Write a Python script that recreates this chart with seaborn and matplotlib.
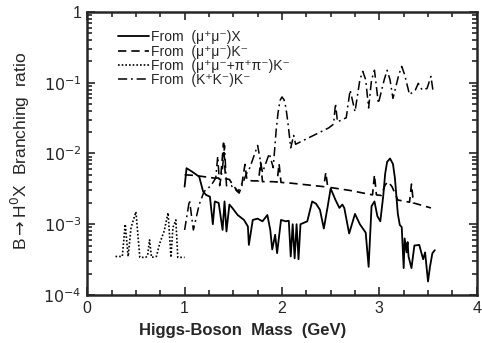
import numpy as np
import pandas as pd
import matplotlib
matplotlib.use("Agg")
import matplotlib.pyplot as plt
from matplotlib.ticker import FixedLocator, MultipleLocator, LogLocator, NullFormatter
from matplotlib.lines import Line2D
import seaborn as sns

# ---- data ----
# (mu+mu-)X  solid
mass_mumuX = [1.00, 1.02, 1.08, 1.15, 1.19, 1.22, 1.26, 1.29, 1.31, 1.35, 1.39, 1.41, 1.43,
              1.46, 1.49, 1.545, 1.61, 1.65, 1.66, 1.70, 1.75, 1.80, 1.85, 1.88, 1.90, 1.93,
              1.95, 1.99, 2.04, 2.07, 2.09, 2.11, 2.13, 2.15, 2.17, 2.19, 2.26, 2.31, 2.35,
              2.39, 2.43, 2.47, 2.50, 2.55, 2.59, 2.62, 2.64, 2.69, 2.75, 2.80, 2.86, 2.89,
              2.92, 2.95, 2.98, 3.01, 3.04, 3.06, 3.08, 3.11, 3.14, 3.16, 3.19, 3.21, 3.23,
              3.25, 3.26, 3.28, 3.29, 3.30, 3.33, 3.36, 3.41, 3.45, 3.47, 3.50, 3.52, 3.545, 3.57]
br_mumuX = [3.4e-3, 6.2e-3, 5.5e-3, 4.7e-3, 2.9e-3, 2.6e-3, 2.45e-3, 1.0e-3, 2.1e-3, 2.0e-3,
            8.3e-4, 2.1e-3, 7.9e-4, 1.9e-3, 1.7e-3, 1.35e-3, 1.15e-3, 9.3e-4, 5.1e-4, 1.15e-3,
            1.2e-3, 1.1e-3, 1.35e-3, 8.3e-4, 4.4e-4, 7.1e-4, 3.9e-4, 1.15e-3, 1.1e-3, 1.12e-3,
            3.5e-4, 1.0e-3, 3.3e-4, 1.0e-3, 3.2e-4, 1.0e-3, 1.1e-3, 2.1e-3, 1.95e-3, 1.6e-3,
            8.7e-4, 1.8e-3, 3.2e-3, 2.2e-3, 1.7e-3, 1.9e-3, 1.7e-3, 7.4e-4, 1.4e-3, 1.0e-3,
            7.6e-4, 2.5e-4, 1.8e-3, 2.1e-3, 1.3e-3, 1.1e-3, 2.5e-3, 5.2e-3, 7.6e-3, 8.5e-3,
            7.1e-3, 4.5e-3, 1.4e-3, 9.8e-4, 9.1e-4, 2.4e-4, 6.3e-4, 4.0e-4, 5.6e-4, 3.5e-4,
            2.4e-4, 5.0e-4, 5.1e-4, 3.2e-4, 4.0e-4, 1.55e-4, 2.5e-4, 3.9e-4, 4.3e-4]

# (mu+mu-)K-  dashed
mass_mumuK = [1.00, 1.10, 1.20, 1.30, 1.37, 1.40, 1.42, 1.46, 1.50, 1.55, 1.59, 1.62, 1.64,
              1.70, 1.76, 1.78, 1.80, 1.90, 1.95, 1.97, 1.99, 2.10, 2.30, 2.43, 2.45, 2.47,
              2.70, 2.93, 2.95, 2.97, 3.02, 3.06, 3.09, 3.13, 3.19, 3.31, 3.33, 3.35, 3.53]
br_mumuK = [5.0e-3, 4.9e-3, 4.7e-3, 4.5e-3, 4.5e-3, 1.4e-2, 4.4e-3, 4.3e-3, 3.5e-3, 2.9e-3,
            3.8e-3, 7.0e-3, 4.2e-3, 4.1e-3, 4.1e-3, 7.5e-3, 4.0e-3, 4.0e-3, 3.95e-3, 7.2e-3,
            3.9e-3, 3.8e-3, 3.55e-3, 3.4e-3, 5.4e-3, 3.35e-3, 3.0e-3, 2.6e-3, 5.0e-3, 2.6e-3,
            2.55e-3, 3.6e-3, 4.0e-3, 3.4e-3, 2.2e-3, 2.05e-3, 3.7e-3, 2.0e-3, 1.7e-3]

# (mu+mu- + pi+pi-)K-  dotted
mass_mupiK = [0.29, 0.36, 0.39, 0.42, 0.45, 0.50, 0.54, 0.60, 0.62, 0.64, 0.66, 0.71,
              0.745, 0.79, 0.83, 0.86, 0.88, 0.91, 0.93, 1.00]
br_mupiK = [3.5e-4, 3.5e-4, 1.0e-3, 3.5e-4, 9.0e-4, 1.5e-3, 3.4e-4, 3.4e-4, 3.6e-4, 6.0e-4,
            3.4e-4, 3.5e-4, 5.4e-4, 8.0e-4, 1.45e-3, 3.4e-4, 9.0e-4, 1.15e-3, 3.4e-4, 3.4e-4]

# (K+K-)K-  dash-dot
mass_KKK = [1.00, 1.05, 1.09, 1.15, 1.20, 1.27, 1.32, 1.34, 1.36, 1.39, 1.41, 1.43, 1.48,
            1.56, 1.63, 1.67, 1.75, 1.80, 1.87, 1.91, 1.94, 1.96, 1.98, 2.00, 2.02, 2.04,
            2.06, 2.08, 2.09, 2.12, 2.14, 2.48, 2.53, 2.55, 2.57, 2.66, 2.70, 2.75, 2.80,
            2.83, 2.86, 2.89, 2.92, 2.95, 2.99, 3.05, 3.08, 3.11, 3.14, 3.20, 3.23, 3.26,
            3.31, 3.37, 3.40, 3.44, 3.49, 3.53, 3.55]
br_KKK = [8.3e-4, 2.2e-3, 8.3e-4, 1.9e-3, 2.9e-3, 3.5e-3, 4.5e-3, 9.1e-3, 3.5e-3, 6.3e-3,
          1.3e-2, 3.5e-3, 3.5e-3, 2.75e-3, 5.0e-3, 6.3e-3, 1.3e-2, 5.4e-3, 1.0e-2, 6.3e-3,
          2.1e-2, 3.8e-2, 5.6e-2, 6.3e-2, 5.8e-2, 4.5e-2, 2.8e-2, 1.6e-2, 1.2e-2, 1.8e-2,
          1.35e-2, 2.3e-2, 2.6e-2, 5.1e-2, 2.8e-2, 3.2e-2, 7.9e-2, 3.9e-2, 1.1e-1, 1.45e-1,
          1.1e-1, 4.4e-2, 1.1e-1, 1.5e-1, 5.1e-2, 1.1e-1, 1.5e-1, 1.1e-1, 6.0e-2, 1.3e-1,
          1.7e-1, 1.3e-1, 6.8e-2, 7.9e-2, 9.8e-2, 7.9e-2, 8.3e-2, 1.23e-1, 7.9e-2]

legend_labels = ['From  (μ⁺μ⁻)X',
                 'From  (μ⁺μ⁻)K⁻',
                 'From  (μ⁺μ⁻+π⁺π⁻)K⁻',
                 'From  (K⁺K⁻)K⁻']
x_ticks = [0, 1, 2, 3, 4]
y_ticks = [1e-4, 1e-3, 1e-2, 1e-1, 1]
y_tick_labels = [r'$10^{-4}$', r'$10^{-3}$', r'$10^{-2}$', r'$10^{-1}$', '1']

# ---- plotting ----
sns.set_style('ticks')
plt.rcParams['font.family'] = ['Liberation Sans', 'DejaVu Sans']
plt.rcParams['mathtext.fontset'] = 'dejavusans'

fig = plt.figure(figsize=(4.82, 3.43), dpi=100)
ax = fig.add_axes([0.181, 0.14, 0.808, 0.825])

styles = [dict(ls='-', lw=1.3), dict(ls=(0, (5, 3)), lw=1.2),
          dict(ls=(0, (1, 1.2)), lw=1.2), dict(ls=(0, (6, 2.5, 1.2, 2.5)), lw=1.1)]
series = [(mass_mumuX, br_mumuX), (mass_mumuK, br_mumuK),
          (mass_mupiK, br_mupiK), (mass_KKK, br_KKK)]
for (xs, ys), st in zip(series, styles):
    df = pd.DataFrame({'m': xs, 'br': ys})
    sns.lineplot(data=df, x='m', y='br', ax=ax, color='black', sort=False,
                 estimator=None, linestyle=st['ls'], linewidth=st['lw'])

ax.set_yscale('log')
ax.set_xlim(0, 4)
ax.set_ylim(1e-4, 1)
ax.xaxis.set_major_locator(FixedLocator(x_ticks))
ax.xaxis.set_minor_locator(MultipleLocator(0.25))
ax.yaxis.set_major_locator(FixedLocator(y_ticks))
ax.set_yticklabels(y_tick_labels)
ax.yaxis.set_minor_locator(LogLocator(base=10, subs=np.arange(2, 10)))
ax.yaxis.set_minor_formatter(NullFormatter())
ax.set_xticklabels([str(t) for t in x_ticks])

ax.tick_params(which='both', direction='in', top=True, right=True, width=1.2)
ax.tick_params(which='major', length=6, labelsize=11.5, pad=4)
ax.tick_params(which='minor', length=3.5)
for s in ax.spines.values():
    s.set_linewidth(1.8)

ax.set_xlabel('Higgs-Boson  Mass  (GeV)', fontsize=12, fontweight='bold')
ax.xaxis.set_label_coords(0.40, -0.1)
ax.set_ylabel(r'B$\rightarrow$H$^{0}$X  Branching  ratio', fontsize=12.5)
ax.yaxis.set_label_coords(-0.142, 0.51)

handles = [Line2D([], [], color='black', linestyle=st['ls'], linewidth=st['lw']) for st in styles]
ax.legend(handles, legend_labels, loc='upper left', bbox_to_anchor=(0.065, 0.955),
          frameon=False, fontsize=10, handlelength=2.2, handletextpad=0.15,
          labelspacing=0.02, borderaxespad=0)

fig.savefig('out.png', dpi=100)
